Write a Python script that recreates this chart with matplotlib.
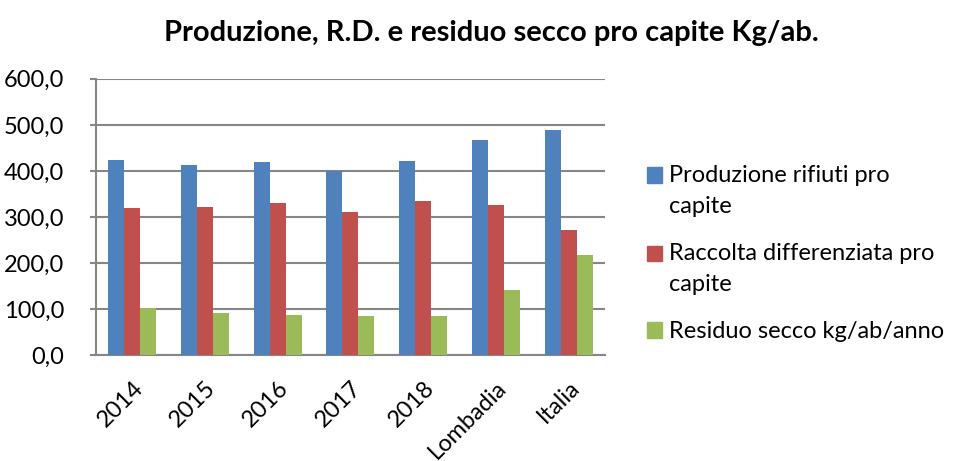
import matplotlib.pyplot as plt
import numpy as np
from matplotlib.ticker import FuncFormatter
from matplotlib.patches import Patch, Rectangle
from matplotlib.legend_handler import HandlerPatch

plt.rcParams['font.family'] = ['Lato', 'DejaVu Sans']

categories = ["2014", "2015", "2016", "2017", "2018", "Lombadia", "Italia"]
produzione = [423.3, 413.2, 419.0, 399.4, 420.4, 466.7, 489.1]
raccolta = [319.8, 321.3, 330.0, 311.1, 334.3, 324.9, 271.3]
residuo = [101.3, 91.2, 87.6, 84.7, 84.0, 141.1, 216.4]
series_names = ["Produzione rifiuti pro\ncapite",
                "Raccolta differenziata pro\ncapite",
                "Residuo secco kg/ab/anno"]
colors = ["#4f81bd", "#c0504d", "#9bbb59"]

fig = plt.figure(figsize=(9.55, 4.61), dpi=100)
ax = fig.add_axes([0.1005, 0.23, 0.533, 0.599])

x = np.arange(len(categories))
w = 0.22
for i, (vals, c) in enumerate(zip([produzione, raccolta, residuo], colors)):
    ax.bar(x + (i - 1) * w, vals, w, color=c, zorder=3)

ax.set_xlim(-0.5, len(categories) - 0.5)
ax.set_ylim(0, 600)
ax.set_yticks(np.arange(0, 601, 100))
ax.yaxis.set_major_formatter(FuncFormatter(lambda v, p: f"{v:.1f}".replace(".", ",")))
ax.grid(axis="y", color="#868686", linewidth=1.5, zorder=0)
for s in ["top", "right"]:
    ax.spines[s].set_visible(False)
for s in ["left", "bottom"]:
    ax.spines[s].set_color("#868686")
    ax.spines[s].set_linewidth(1.5)
ax.tick_params(axis="y", length=4, color="#868686", width=1.5, labelsize=17, pad=19)
ax.tick_params(axis="x", length=0, labelsize=17, pad=16)
ax.set_xticks(x)
ax.set_xticklabels(categories, rotation=45, ha="right", rotation_mode="anchor")

fig.text(491 / 955, 1 - 33 / 461, "Produzione, R.D. e residuo secco pro capite Kg/ab.",
         ha="center", va="center", fontsize=21, fontweight="bold")


# square next to the first line of a two-line label, like Excel does
def top_square(legend, orig_handle, xdescent, ydescent, width, height, fontsize):
    return Rectangle((-xdescent, -ydescent + 11.5), width, height)


proxies = [Patch(color=c) for c in colors]
hmap = {p: HandlerPatch(patch_func=top_square) for p, n in zip(proxies, series_names) if "\n" in n}
leg = fig.legend(proxies, series_names, loc="center left", bbox_to_anchor=(0.655, 0.45),
                 frameon=False, fontsize=17, handlelength=0.64, handleheight=0.64,
                 handletextpad=0.3, labelspacing=1.1, handler_map=hmap)
for t in leg.get_texts():
    t.set_linespacing(1.6)

plt.savefig("out.png", dpi=100)
